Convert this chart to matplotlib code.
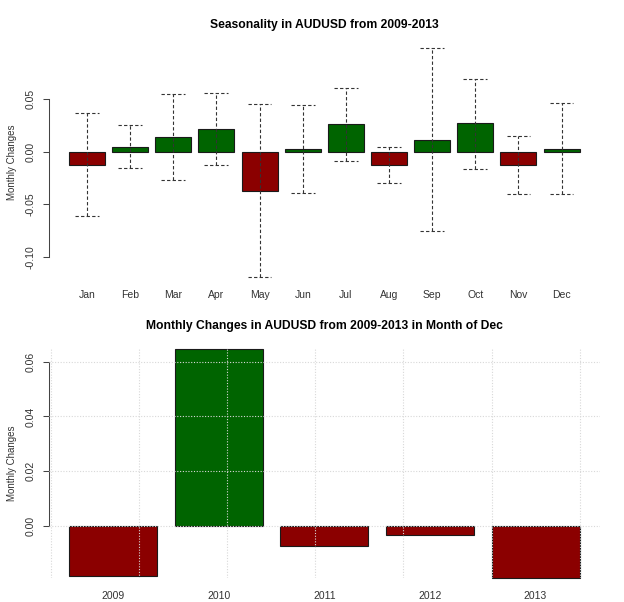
import matplotlib
matplotlib.use('Agg')
import matplotlib.pyplot as plt

plt.rcParams['font.family'] = ['Liberation Sans', 'DejaVu Sans']

# ---- data ----
months = ['Jan', 'Feb', 'Mar', 'Apr', 'May', 'Jun', 'Jul', 'Aug', 'Sep', 'Oct', 'Nov', 'Dec']
mean_changes = [-0.0123, 0.0047, 0.0139, 0.0215, -0.0370, 0.0023, 0.0263, -0.0123, 0.0111, 0.0269, -0.0123, 0.0028]
upper_whisker = [0.0364, 0.0250, 0.0548, 0.0560, 0.0453, 0.0440, 0.0607, 0.0047, 0.0984, 0.0690, 0.0149, 0.0462]
lower_whisker = [-0.0610, -0.0155, -0.0268, -0.0123, -0.1186, -0.0392, -0.0091, -0.0294, -0.0750, -0.0164, -0.0398, -0.0404]

years = ['2009', '2010', '2011', '2012', '2013']
dec_changes = [-0.0184, 0.0647, -0.0074, -0.0034, -0.0190]

top_yticks = [-0.10, -0.05, 0.00, 0.05]
top_yticklabels = ['-0.10', '-0.05', '0.00', '0.05']
bot_yticks = [0.00, 0.02, 0.04, 0.06]
bot_yticklabels = ['0.00', '0.02', '0.04', '0.06']

GREEN = '#006400'
RED = '#8B0000'
AXCOL = '#444444'
TXTCOL = '#333333'

W, H = 624, 602
fig = plt.figure(figsize=(W / 100, H / 100), dpi=100)


def px_axes(l, t, r, b):
    return fig.add_axes([l / W, 1 - b / H, (r - l) / W, (b - t) / H])


def style_axes(ax, yticks, ylabels, xpos, xlabels):
    for s in ('top', 'right', 'bottom'):
        ax.spines[s].set_visible(False)
    ax.spines['left'].set_bounds(min(yticks), max(yticks))
    ax.spines['left'].set_color(AXCOL)
    ax.spines['left'].set_linewidth(0.75)
    ax.set_yticks(yticks)
    ax.set_yticklabels(ylabels, rotation=90, ha='center', va='center', color=TXTCOL)
    ax.tick_params(axis='y', length=4.1, width=0.75, color=AXCOL, labelsize=7.5, pad=8.5)
    ax.set_xticks(xpos)
    ax.set_xticklabels(xlabels, va='center', color=TXTCOL)
    ax.tick_params(axis='x', length=0, labelsize=7.5, pad=13.2)


# ---- top chart ----
ax1 = px_axes(48.5, 48, 600, 276.7)
pos1 = [0.7 + 1.2 * i for i in range(len(months))]
cols1 = [GREEN if v >= 0 else RED for v in mean_changes]
ax1.bar(pos1, mean_changes, width=1.0, color=cols1, edgecolor='#1a1a1a',
        linewidth=0.8, zorder=2, clip_on=False)
ax1.vlines(pos1, lower_whisker, upper_whisker, colors='#333333',
           linestyles=(0, (3, 2)), linewidth=0.8, zorder=3, clip_on=False)
cap = 0.33
ax1.hlines(upper_whisker, [p - cap for p in pos1], [p + cap for p in pos1],
           colors='#333333', linestyles=(0, (3, 2)), linewidth=0.8, zorder=3, clip_on=False)
ax1.hlines(lower_whisker, [p - cap for p in pos1], [p + cap for p in pos1],
           colors='#333333', linestyles=(0, (3, 2)), linewidth=0.8, zorder=3, clip_on=False)
ax1.set_xlim(-0.368, 14.968)
ax1.set_ylim(-0.1186, 0.0984)
style_axes(ax1, top_yticks, top_yticklabels, pos1, months)

# ---- bottom chart ----
ax2 = px_axes(48.5, 349, 600, 577.7)
pos2 = [0.7 + 1.2 * i for i in range(len(years))]
cols2 = [GREEN if v >= 0 else RED for v in dec_changes]
ax2.bar(pos2, dec_changes, width=1.0, color=cols2, edgecolor='#1a1a1a',
        linewidth=0.8, zorder=2, clip_on=False)
ax2.set_xlim(-0.032, 6.232)
ax2.set_ylim(-0.0190, 0.0647)
for gx in range(0, 7):
    ax2.axvline(gx, color='#d8d8d8', linestyle=(0, (1, 1.5)), linewidth=0.8, zorder=3)
for gy in bot_yticks:
    ax2.axhline(gy, color='#d8d8d8', linestyle=(0, (1, 1.5)), linewidth=0.8, zorder=3)
style_axes(ax2, bot_yticks, bot_yticklabels, pos2, years)

# ---- titles / labels ----
fig.text(324 / W, 1 - 25 / H, 'Seasonality in AUDUSD from 2009-2013',
         ha='center', va='center', fontsize=8.7, fontweight='bold')
fig.text(324 / W, 1 - 326 / H, 'Monthly Changes in AUDUSD from 2009-2013 in Month of Dec',
         ha='center', va='center', fontsize=8.7, fontweight='bold')
fig.text(12 / W, 1 - 162.3 / H, 'Monthly Changes', rotation=90,
         ha='center', va='center', fontsize=7, color=TXTCOL)
fig.text(12 / W, 1 - 463 / H, 'Monthly Changes', rotation=90,
         ha='center', va='center', fontsize=7, color=TXTCOL)

fig.savefig('out.png', dpi=100)
